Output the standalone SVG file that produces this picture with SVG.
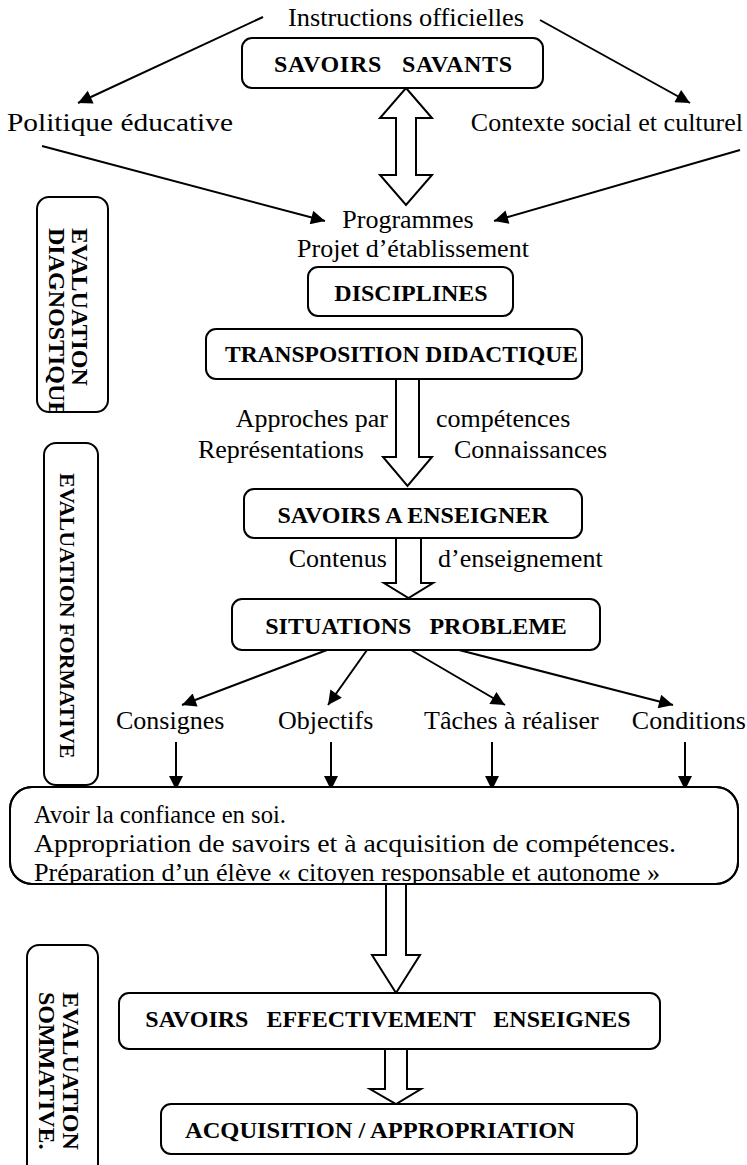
<svg xmlns="http://www.w3.org/2000/svg" width="747" height="1165" viewBox="0 0 747 1165">
<style>
.t{font-family:"Liberation Serif","Times New Roman",serif;font-size:26px;fill:#000}
.s{font-family:"Liberation Serif","Times New Roman",serif;font-size:25px;fill:#000}
.b{font-family:"Liberation Serif","Times New Roman",serif;font-size:24px;font-weight:bold;fill:#000}
.v{font-family:"Liberation Serif","Times New Roman",serif;font-size:24px;font-weight:bold;fill:#000}
.box{fill:#fff;stroke:#000;stroke-width:2}
.ln{fill:none;stroke:#000;stroke-width:2}
.hol{fill:#fff;stroke:#000;stroke-width:2;stroke-linejoin:miter}
</style>
<defs>
<marker id="ah" viewBox="0 0 10 10" refX="10" refY="5" markerWidth="18" markerHeight="14" markerUnits="userSpaceOnUse" orient="auto">
<path d="M0,0 L10,5 L0,10 z" fill="#000"/>
</marker>
<clipPath id="cDiag"><rect x="38" y="198" width="69" height="213" rx="12"/></clipPath>
<clipPath id="cBig"><rect x="10" y="787" width="728" height="96"/></clipPath>
</defs>
<rect width="747" height="1165" fill="#fff"/>

<g id="connectors">
<line class="ln" x1="263" y1="17" x2="78" y2="103" marker-end="url(#ah)"/>
<line class="ln" x1="540" y1="20" x2="690" y2="103" marker-end="url(#ah)"/>
<line class="ln" x1="42" y1="146" x2="325" y2="221" marker-end="url(#ah)"/>
<line class="ln" x1="740" y1="150" x2="494" y2="221" marker-end="url(#ah)"/>
<polygon class="hol" points="406,88 432,118 416,118 416,175 432,175 406,205 380,175 396,175 396,118 380,118"/>
<polygon class="hol" points="396,379 419,379 419,457 432,457 407.5,486 383,457 396,457"/>
<polygon class="hol" points="396,538 421,538 421,583 433,583 408.5,598 384,583 396,583"/>
<line class="ln" x1="327" y1="650" x2="182" y2="705" marker-end="url(#ah)"/>
<line class="ln" x1="367" y1="650" x2="328" y2="705" marker-end="url(#ah)"/>
<line class="ln" x1="411" y1="650" x2="505" y2="705" marker-end="url(#ah)"/>
<line class="ln" x1="459" y1="650" x2="673" y2="705" marker-end="url(#ah)"/>
<line class="ln" x1="176" y1="742" x2="176" y2="790" marker-end="url(#ah)"/>
<line class="ln" x1="331" y1="742" x2="331" y2="790" marker-end="url(#ah)"/>
<line class="ln" x1="492" y1="742" x2="492" y2="790" marker-end="url(#ah)"/>
<line class="ln" x1="685" y1="742" x2="685" y2="790" marker-end="url(#ah)"/>
<polygon class="hol" points="386,884 406,884 406,955 420,955 396,993 372,955 386,955"/>
<polygon class="hol" points="385,1049 407,1049 407,1089 421,1089 396,1104 370,1089 385,1089"/>
</g>

<g id="instructions"><text class="t" x="406" y="26" text-anchor="middle" textLength="236" lengthAdjust="spacingAndGlyphs">Instructions officielles</text></g>
<g id="savoirs-savants">
<rect class="box" x="242" y="38" width="301" height="50" rx="10"/>
<text class="b" x="274" y="72" textLength="238" lengthAdjust="spacing" xml:space="preserve">SAVOIRS   SAVANTS</text>
</g>
<g id="politique"><text class="t" x="7" y="131" textLength="226" lengthAdjust="spacingAndGlyphs">Politique éducative</text></g>
<g id="contexte"><text class="t" x="743" y="131" text-anchor="end">Contexte social et culturel</text></g>
<g id="programmes">
<text class="t" x="408" y="228" text-anchor="middle">Programmes</text>
<text class="t" x="413" y="257" text-anchor="middle">Projet d’établissement</text>
</g>
<g id="disciplines">
<rect class="box" x="308" y="267" width="205" height="49" rx="10"/>
<text class="b" x="411" y="301" text-anchor="middle">DISCIPLINES</text>
</g>
<g id="transposition">
<rect class="box" x="206" y="329" width="376" height="50" rx="10"/>
<text class="b" x="225" y="362" textLength="353" lengthAdjust="spacingAndGlyphs">TRANSPOSITION DIDACTIQUE</text>
</g>
<g id="approches">
<text class="t" x="388" y="427" text-anchor="end">Approches par</text>
<text class="t" x="436" y="427">compétences</text>
<text class="t" x="364" y="458" text-anchor="end">Représentations</text>
<text class="t" x="454" y="458">Connaissances</text>
</g>
<g id="savoirs-enseigner">
<rect class="box" x="244" y="489" width="338" height="49" rx="10"/>
<text class="b" x="413" y="523" text-anchor="middle">SAVOIRS A ENSEIGNER</text>
</g>
<g id="contenus">
<text class="t" x="387" y="567" text-anchor="end">Contenus</text>
<text class="t" x="438" y="567">d’enseignement</text>
</g>
<g id="situations">
<rect class="box" x="232" y="599" width="368" height="51" rx="10"/>
<text class="b" x="416" y="634" text-anchor="middle" xml:space="preserve">SITUATIONS   PROBLEME</text>
</g>
<g id="consignes"><text class="t" x="116" y="729">Consignes</text></g>
<g id="objectifs"><text class="t" x="278" y="729">Objectifs</text></g>
<g id="taches"><text class="t" x="424" y="729">Tâches à réaliser</text></g>
<g id="conditions"><text class="t" x="746" y="729" text-anchor="end">Conditions</text></g>
<g id="objectifs-box">
<rect class="box" x="10" y="787" width="728" height="97" rx="22"/>
<g clip-path="url(#cBig)">
<text class="s" x="34" y="823" textLength="252" lengthAdjust="spacingAndGlyphs">Avoir la confiance en soi.</text>
<text class="s" x="34" y="852" textLength="642" lengthAdjust="spacingAndGlyphs">Appropriation de savoirs et à acquisition de compétences.</text>
<text class="s" x="34" y="881" textLength="626" lengthAdjust="spacingAndGlyphs">Préparation d’un élève « citoyen responsable et autonome »</text>
</g>
<rect x="10" y="787" width="728" height="97" rx="22" fill="none" stroke="#000" stroke-width="2"/>
</g>
<g id="savoirs-effectivement">
<rect class="box" x="119" y="993" width="541" height="56" rx="10"/>
<text class="b" x="388" y="1027" text-anchor="middle" xml:space="preserve">SAVOIRS   EFFECTIVEMENT   ENSEIGNES</text>
</g>
<g id="acquisition">
<rect class="box" x="161" y="1104" width="476" height="50" rx="10"/>
<text class="b" x="185" y="1138" textLength="390" lengthAdjust="spacingAndGlyphs">ACQUISITION / APPROPRIATION</text>
</g>
<g id="eval-diagnostique">
<rect class="box" x="37" y="197" width="71" height="215" rx="12"/>
<g clip-path="url(#cDiag)">
<text class="v" transform="translate(72,228) rotate(90)">EVALUATION</text>
<text class="v" transform="translate(49,228) rotate(90)">DIAGNOSTIQUE</text>
</g>
</g>
<g id="eval-formative">
<rect class="box" x="44" y="443" width="54" height="342" rx="12"/>
<text class="v" transform="translate(60,473) rotate(90)" style="font-size:22px">EVALUATION FORMATIVE</text>
</g>
<g id="eval-sommative">
<rect class="box" x="27" y="945" width="71" height="240" rx="12"/>
<text class="v" transform="translate(63,992) rotate(90)">EVALUATION</text>
<text class="v" transform="translate(39,992) rotate(90)">SOMMATIVE.</text>
</g>
</svg>
